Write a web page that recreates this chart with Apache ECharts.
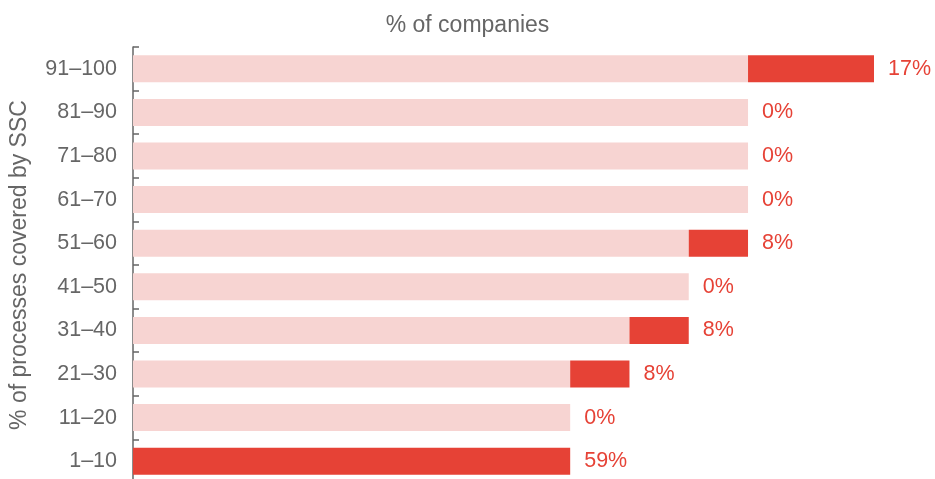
<!DOCTYPE html>
<html><head><meta charset="utf-8">
<script src="https://cdn.jsdelivr.net/npm/echarts@6/dist/echarts.min.js"></script>
<style>html,body{margin:0;padding:0;background:#fff;overflow:hidden}#c{width:935px;height:484px}</style>
</head><body><div id="c"></div>
<script>
const categories = ['1–10','11–20','21–30','31–40','41–50','51–60','61–70','71–80','81–90','91–100'];
const shares = [59, 0, 8, 8, 0, 8, 0, 0, 0, 17];
const baseValues = [0, 59, 59, 67, 75, 75, 83, 83, 83, 83];
const labels = ['59%','0%','8%','8%','0%','8%','0%','0%','0%','17%'];

const FONT = 'Liberation Sans, Arial, sans-serif';
const chart = echarts.init(document.getElementById('c'));
chart.setOption({
  animation: false,
  title: { text: '% of companies', left: 'center', top: 9,
    textStyle: { color: '#666', fontSize: 23, fontWeight: 'normal', fontFamily: FONT } },
  grid: { left: 133, right: 61, top: 47, bottom: 1, containLabel: false },
  xAxis: { type: 'value', min: 0, max: 100, show: false },
  yAxis: {
    type: 'category', data: categories,
    name: '% of processes covered by SSC', nameLocation: 'middle', nameGap: 102, nameRotate: 90,
    nameTextStyle: { color: '#666', fontSize: 23, fontFamily: FONT },
    axisLine: { show: true, lineStyle: { color: '#666', width: 1.5 } },
    axisTick: { show: true, inside: true, length: 6, alignWithLabel: false, lineStyle: { color: '#666', width: 1.5 } },
    axisLabel: { color: '#666', fontSize: 21.5, fontFamily: FONT, margin: 16 }
  },
  series: [
    { type: 'bar', stack: 's', data: baseValues, barCategoryGap: '38%',
      itemStyle: { color: '#F7D4D2' }, silent: true, z: 1 },
    { type: 'bar', stack: 's', data: shares,
      itemStyle: { color: '#E64236' }, z: 1,
      label: { show: true, position: 'right', distance: 14, color: '#E64236', fontSize: 21.5, fontFamily: FONT,
        formatter: p => labels[p.dataIndex] } }
  ]
});
</script></body></html>
